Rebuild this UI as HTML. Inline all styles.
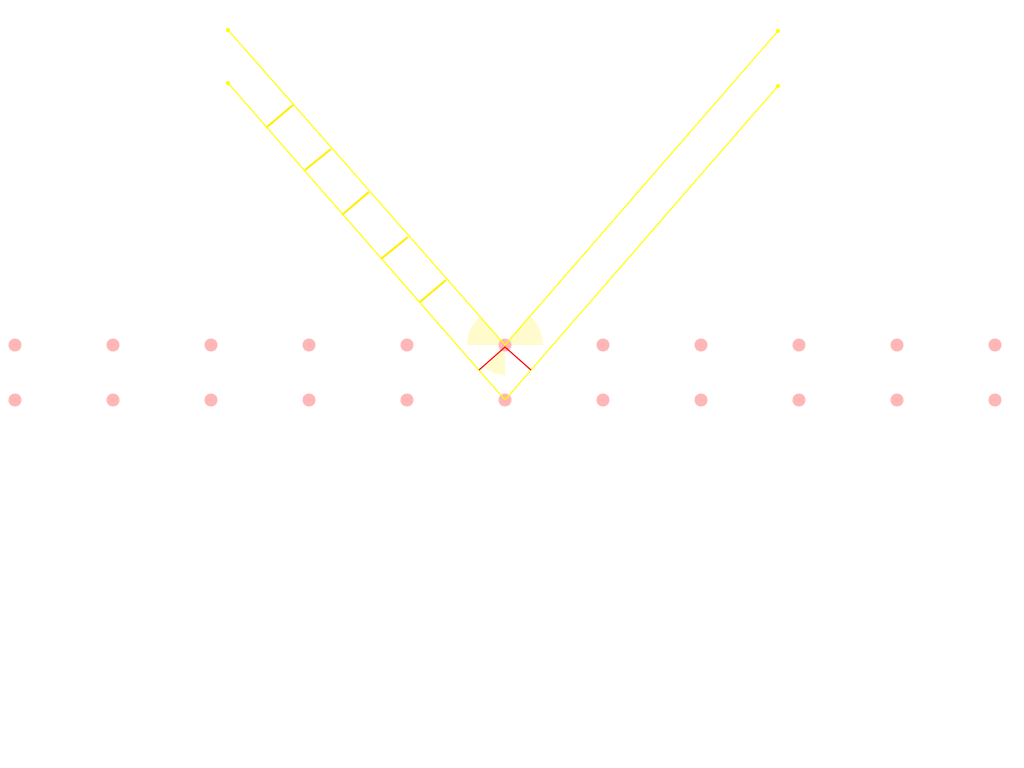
<!DOCTYPE html>
<html><head><style>html,body{margin:0;padding:0;background:#fff;}svg{display:block}</style></head>
<body>
<svg width="1024" height="768" xmlns="http://www.w3.org/2000/svg">
<g fill="#fffbcc">
<path d="M505,345 L467,345 A38,38 0 0 1 480,316.5 Z"/>
<path d="M505,345 L543,345 A38,38 0 0 0 530,316.3 Z"/>
<path d="M505,345 L505,375 A30,30 0 0 1 485.2,367.5 Z"/>
</g>
<g fill="#ffb6b6">
<circle cx="15" cy="345" r="6.5"/><circle cx="113" cy="345" r="6.5"/><circle cx="211" cy="345" r="6.5"/><circle cx="309" cy="345" r="6.5"/><circle cx="407" cy="345" r="6.5"/><circle cx="505" cy="345" r="6.5"/><circle cx="603" cy="345" r="6.5"/><circle cx="701" cy="345" r="6.5"/><circle cx="799" cy="345" r="6.5"/><circle cx="897" cy="345" r="6.5"/><circle cx="995" cy="345" r="6.5"/>
<circle cx="15" cy="400" r="6.5"/><circle cx="113" cy="400" r="6.5"/><circle cx="211" cy="400" r="6.5"/><circle cx="309" cy="400" r="6.5"/><circle cx="407" cy="400" r="6.5"/><circle cx="505" cy="400" r="6.5"/><circle cx="603" cy="400" r="6.5"/><circle cx="701" cy="400" r="6.5"/><circle cx="799" cy="400" r="6.5"/><circle cx="897" cy="400" r="6.5"/><circle cx="995" cy="400" r="6.5"/>
</g>
<g stroke="#ffff00" stroke-width="1.2" fill="none">
<line x1="228" y1="30" x2="505" y2="345"/>
<line x1="228" y1="83" x2="505" y2="400"/>
<line x1="505" y1="345" x2="778" y2="31"/>
<line x1="505" y1="400" x2="778" y2="86"/>
</g>
<g stroke="#ffee00" stroke-width="2">
<line x1="267" y1="127" x2="293" y2="105"/>
<line x1="305" y1="170" x2="331" y2="149"/>
<line x1="343" y1="214" x2="369" y2="192"/>
<line x1="381" y1="259" x2="408" y2="237"/>
<line x1="420" y1="302" x2="446" y2="280"/>
</g>
<g fill="#ffff00">
<circle cx="228" cy="30" r="2"/><circle cx="228" cy="83" r="2"/><circle cx="778" cy="31" r="2"/><circle cx="778" cy="86" r="2"/>
</g>
<polyline points="479,370 505,347 531,370" stroke="#ff0000" stroke-width="1.2" fill="none"/>
</svg>
</body></html>
